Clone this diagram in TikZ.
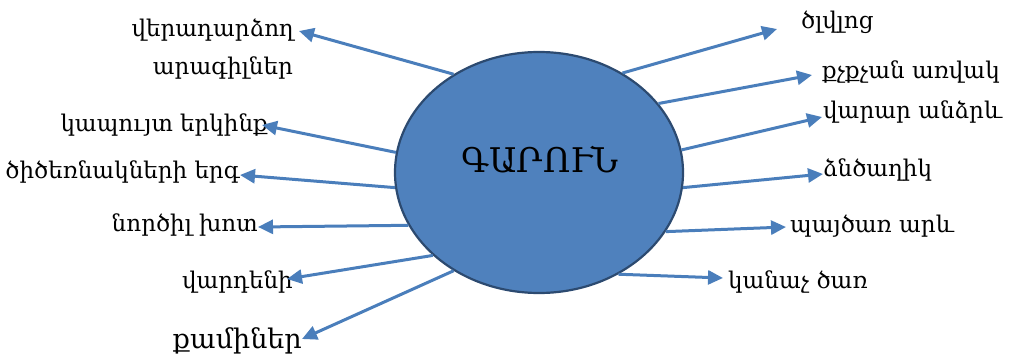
\documentclass[tikz,border=0pt]{standalone}
\usepackage{fontspec}
\setmainfont{DejaVu Serif}
\usetikzlibrary{shapes.geometric,arrows.meta}
\definecolor{ellfill}{HTML}{4F81BD}
\definecolor{elldraw}{HTML}{2C4A70}
\definecolor{arr}{HTML}{4A7EBB}
\begin{document}
\begin{tikzpicture}[x=1pt,y=-1pt,
  lab/.style={inner sep=0pt,font=\fontsize{23}{27}\selectfont},
  lw/.style={lab,anchor=mid east},
  le/.style={lab,anchor=mid west},
  conn/.style={draw=arr,line width=3pt,-{Triangle[length=15pt,width=14pt]}}]
\useasboundingbox (0,0) rectangle (1009,361);
% arrow tips
\coordinate (tL1) at (299,31);
\coordinate (tL2) at (262,125);
\coordinate (tL3) at (240,175);
\coordinate (tL4) at (258,227);
\coordinate (tL5) at (287,279);
\coordinate (tL6) at (302,339);
\coordinate (tR1) at (777,29);
\coordinate (tR2) at (812,75);
\coordinate (tR3) at (822,117);
\coordinate (tR4) at (823,174);
\coordinate (tR5) at (786,227);
\coordinate (tR6) at (723,278);
% labels
\node[lw] (a1) at (294,34) {վերադարձող};
\node[lw] (a2) at (293,72) {արագիլներ};
\node[lw] (a3) at (268,129) {կապույտ երկինք};
\node[lw] (a4) at (240,176) {ծիծեռնակների երգ};
\node[lw] (a5) at (258,229) {նործիլ խոտ};
\node[lw] (a6) at (293,286) {վարդենի};
\node[lw,font=\fontsize{27}{31}\selectfont] (a7) at (302,346) {քամիներ};
\node[le] (b1) at (801,26) {ծլվլոց};
\node[le] (b2) at (822,76) {քչքչան առվակ};
\node[le] (b3) at (823,116) {վարար անձրև};
\node[le] (b4) at (823,174) {ձնծաղիկ};
\node[le] (b5) at (790,230) {պայծառ արև};
\node[le] (b6) at (728,286) {կանաչ ծառ};
% ellipse
\node[ellipse,draw=elldraw,fill=ellfill,line width=2.2pt,minimum width=288pt,minimum height=241pt,inner sep=0pt] (g) at (539,172.5) {};
\node[inner sep=0pt,font=\fontsize{34}{38}\selectfont] (gt) at (540,160) {ԳԱՐՈՒՆ};
% connectors
\draw[conn] (g.131.2) -- (tL1);
\draw[conn] (g.172.7) -- (tL2);
\draw[conn] (g.186.6) -- (tL3);
\draw[conn] (g.202.9) -- (tL4);
\draw[conn] (g.218.9) -- (tL5);
\draw[conn] (g.229.7) -- (tL6);
\draw[conn] (g.50.4) -- (tR1);
\draw[conn] (g.30.3) -- (tR2);
\draw[conn] (g.9.0) -- (tR3);
\draw[conn] (g.-6.1) -- (tR4);
\draw[conn] (g.-25.6) -- (tR5);
\draw[conn] (g.-52.5) -- (tR6);
\end{tikzpicture}
\end{document}
